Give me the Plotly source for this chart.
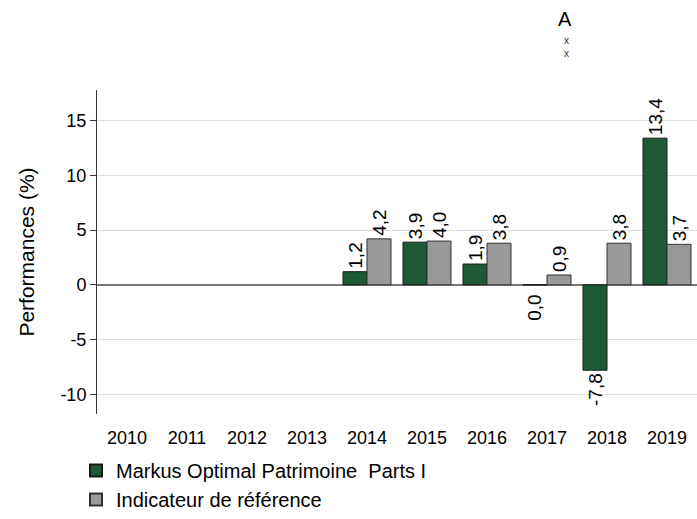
import plotly.graph_objects as go

years = ["2010", "2011", "2012", "2013", "2014", "2015", "2016", "2017", "2018", "2019"]
fund = [None, None, None, None, 1.2, 3.9, 1.9, 0.0, -7.8, 13.4]
bench = [None, None, None, None, 4.2, 4.0, 3.8, 0.9, 3.8, 3.7]
fund_name = "Markus Optimal Patrimoine  Parts I"
bench_name = "Indicateur de référence"
ytick_vals = [-10, -5, 0, 5, 10, 15]
ytick_text = ["-10", "-5", "0", "5", "10", "15"]

font = "Liberation Sans, Arial, sans-serif"

def fmt(v):
    return "" if v is None else f"{v:.1f}".replace(".", ",")

# zero-valued bars get their label below the baseline (as in the reference)
fund_text = [fmt(v) if (v is not None and v != 0) else "" for v in fund]
bench_text = [fmt(v) for v in bench]

fig = go.Figure()
fig.add_trace(go.Bar(
    x=years, y=fund, name=fund_name,
    marker=dict(color="#1e5a36", line=dict(color="#1a1a1a", width=1)),
    text=fund_text, textposition="outside", textangle=-90, constraintext="none",
    textfont=dict(size=19, color="#000000", family=font), cliponaxis=False,
))
fig.add_trace(go.Bar(
    x=years, y=bench, name=bench_name,
    marker=dict(color="#999999", line=dict(color="#333333", width=1)),
    text=bench_text, textposition="outside", textangle=-90, constraintext="none",
    textfont=dict(size=19, color="#000000", family=font), cliponaxis=False,
))

annotations = [
    dict(text="A", xref="paper", yref="paper", x=(565 - 97) / 600, y=(416 - 19) / 326,
         xanchor="center", yanchor="middle",
         showarrow=False, font=dict(size=20, family=font)),
    dict(text="x<br>x", xref="paper", yref="paper", x=(566 - 97) / 600, y=(416 - 47) / 326,
         xanchor="center", yanchor="middle",
         showarrow=False, font=dict(size=10, family=font, color="#333333")),
]
for i, v in enumerate(fund):
    if v == 0:
        annotations.append(dict(
            text=fmt(v), x=i, y=v, xref="x", yref="y", showarrow=False,
            textangle=-90, yanchor="top", xanchor="center", xshift=-12, yshift=-8,
            font=dict(size=19, family=font, color="#000000"),
        ))

fig.update_layout(
    width=697, height=519,
    margin=dict(l=97, r=0, t=90, b=103),
    paper_bgcolor="white", plot_bgcolor="white",
    barmode="group", bargap=0.2, bargroupgap=0,
    separators=", ",
    font=dict(family=font, size=18, color="#000000"),
    showlegend=True,
    legend=dict(orientation="v", x=-0.035, y=-0.115, xanchor="left", yanchor="top",
                font=dict(size=20, family=font), traceorder="normal",
                itemsizing="constant", tracegroupgap=0),
    xaxis=dict(type="category", showline=False, ticks="", showgrid=False,
               tickfont=dict(size=18), ticklabelstandoff=11),
    yaxis=dict(range=[-11.8, 17.8], tickvals=ytick_vals, ticktext=ytick_text,
               showgrid=True, gridcolor="#dddddd", gridwidth=1,
               zeroline=True, zerolinecolor="#777777", zerolinewidth=1.5,
               showline=True, linecolor="#333333", linewidth=1,
               ticks="outside", ticklen=6, tickcolor="#333333",
               tickfont=dict(size=18),
               title=dict(text="Performances (%)", font=dict(size=21), standoff=20)),
    annotations=annotations,
)

fig.write_html("out.html", config={"displayModeBar": False},
               post_script="document.body.style.margin='0';document.body.style.overflow='hidden';")
